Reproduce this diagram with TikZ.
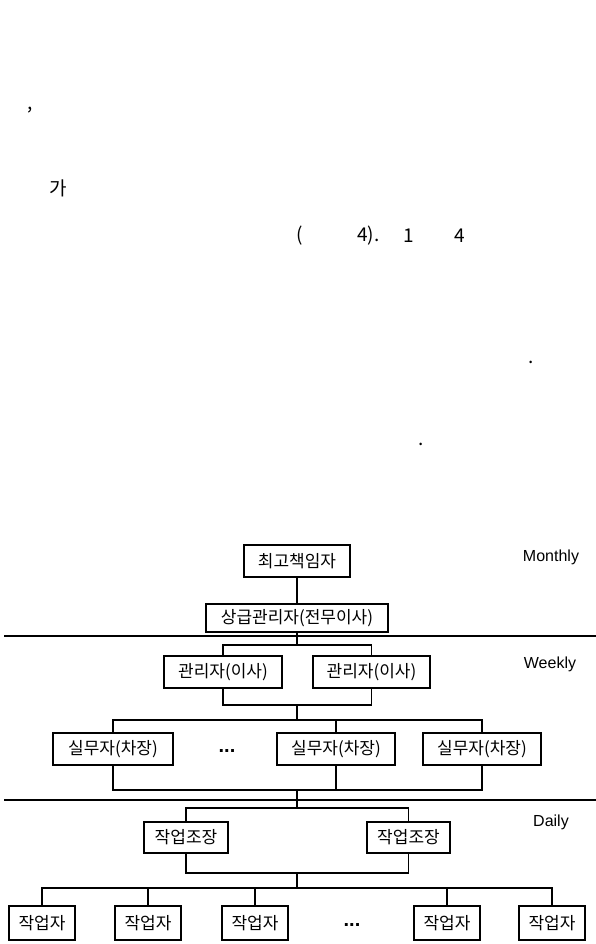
\documentclass[tikz,border=0pt]{standalone}
\usepackage{fontspec}
\setmainfont{Liberation Sans}
\newfontfamily\kr{Noto Sans CJK KR}
\begin{document}
\begin{tikzpicture}[x=1pt,y=-1pt,
  box/.style={draw, line width=1.5pt, inner sep=0pt, font=\kr\fontsize{17}{17}\selectfont},
  wire/.style={line width=1.5pt},
  sepline/.style={line width=1.2pt},
  lbl/.style={font=\fontsize{16}{16}\selectfont},
  dots/.style={font=\bfseries\fontsize{20}{20}\selectfont},
  body/.style={font=\kr\fontsize{19}{19}\selectfont, inner sep=0pt}]
\useasboundingbox (0,0) rectangle (596,944);

% stray text above
\node[body] (t1) at (30,110) {,};
\node[body] (t2) at (58,188) {가};
\node[body] (t3) at (300,236) {(};
\node[body, anchor=west] (t4) at (357,236) {4).};
\node[body] (t5) at (409,236) {1};
\node[body] (t6) at (460,236) {4};
\node[body] (t7) at (531,362) {.};
\node[body] (t8) at (421,444) {.};

% separators
\draw[sepline] (4,636) -- (596,636);
\draw[sepline] (4,800) -- (596,800);

% level labels
\node[lbl] (mon) at (551,557) {Monthly};
\node[lbl] (wee) at (550,664) {Weekly};
\node[lbl] (dai) at (551,822) {Daily};

% boxes
\node[box, minimum width=106pt, minimum height=32pt] (top) at (297,561) {최고책임자};
\node[box, minimum width=182pt, minimum height=28pt] (upper) at (297,618) {상급관리자(전무이사)};

\node[box, minimum width=118pt, minimum height=32pt] (m1) at (223,672) {관리자(이사)};
\node[box, minimum width=117pt, minimum height=32pt] (m2) at (371.5,672) {관리자(이사)};

\node[box, minimum width=120pt, minimum height=32pt] (w1) at (113,749) {실무자(차장)};
\node[box, minimum width=118pt, minimum height=32pt] (w2) at (336,749) {실무자(차장)};
\node[box, minimum width=118pt, minimum height=32pt] (w3) at (482,749) {실무자(차장)};
\node[dots] (d1) at (227,751) {...};

\node[box, minimum width=84pt, minimum height=31pt] (f1) at (186,837.5) {작업조장};
\node[box, minimum width=83pt, minimum height=31pt] (f2) at (408.5,837.5) {작업조장};

\node[box, minimum width=66pt, minimum height=34pt] (a1) at (42,923) {작업자};
\node[box, minimum width=66pt, minimum height=34pt] (a2) at (148,923) {작업자};
\node[box, minimum width=66pt, minimum height=34pt] (a3) at (255,923) {작업자};
\node[box, minimum width=66pt, minimum height=34pt] (a4) at (447,923) {작업자};
\node[box, minimum width=66pt, minimum height=34pt] (a5) at (552,923) {작업자};
\node[dots] (d2) at (352,925) {...};

% junctions
\coordinate (j1) at (297,645);
\coordinate (j2) at (297,705);
\coordinate (j3) at (297,720);
\coordinate (j4) at (297,790);
\coordinate (j5) at (297,808);
\coordinate (j6) at (297,873);
\coordinate (j7) at (297,888);

% connectors
\draw[wire] (top.south) -- (upper.north);
\draw[wire] (upper.south) -- (j1);
\draw[wire] (m1.north) |- (j1) -| (m2.north);
\draw[wire] (m1.south) |- (j2) -| (m2.south);
\draw[wire] (j2) -- (j3);
\draw[wire] (w1.north) |- (j3) -| (w3.north);
\draw[wire] (w2.north) -- (w2.north |- j3);
\draw[wire] (w1.south) |- (j4) -| (w3.south);
\draw[wire] (w2.south) -- (w2.south |- j4);
\draw[wire] (j4) -- (j5);
\draw[wire] (f1.north) |- (j5) -| (f2.north);
\draw[wire] (f1.south) |- (j6) -| (f2.south);
\draw[wire] (j6) -- (j7);
\draw[wire] (a1.north) |- (j7) -| (a5.north);
\draw[wire] (a2.north) -- (a2.north |- j7);
\draw[wire] (a3.north) -- (a3.north |- j7);
\draw[wire] (a4.north) -- (a4.north |- j7);
\end{tikzpicture}
\end{document}
